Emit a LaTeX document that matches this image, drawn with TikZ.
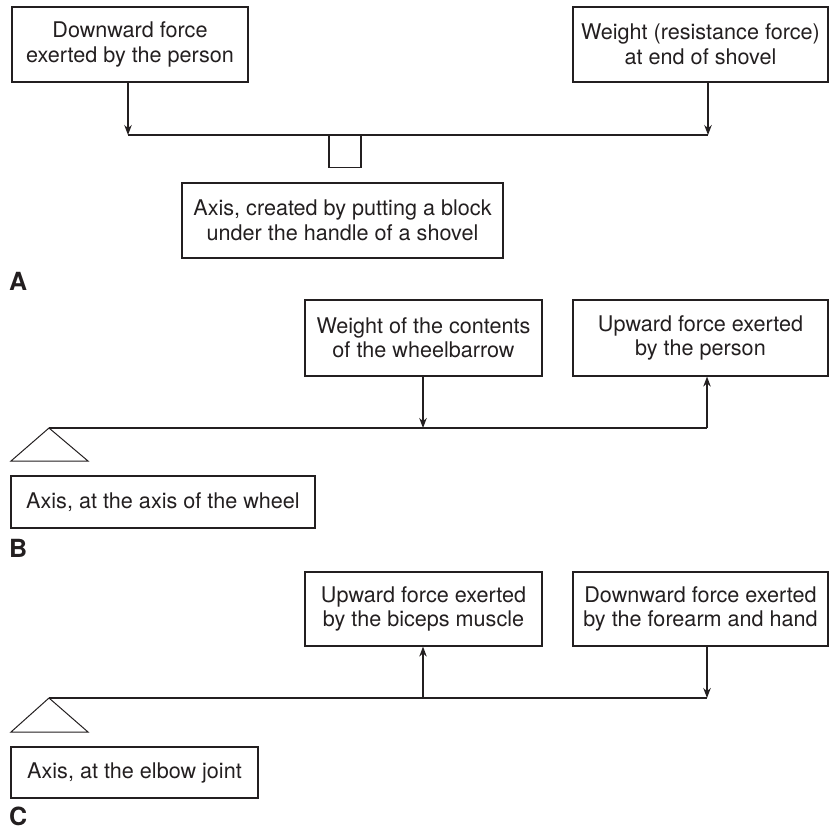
\documentclass[tikz,border=0pt]{standalone}
\usepackage{fontspec}
\setmainfont{TeX Gyre Heros}
\usetikzlibrary{arrows.meta}
\definecolor{ink}{RGB}{35,31,32}
\begin{document}
\begin{tikzpicture}[x=1pt,y=-1pt,
  every node/.style={text=ink},
  box/.style={draw=ink,line width=1.2pt,rectangle,inner sep=0pt,align=center,
    font=\fontsize{21.6}{24.5}\selectfont},
  lever/.style={draw=ink,line width=1.2pt},
  arr/.style={draw=ink,line width=1.2pt,-{Stealth[length=10pt,width=7.5pt]}},
  tag/.style={font=\fontsize{25}{25}\selectfont\bfseries,inner sep=0pt,anchor=south west}]
\useasboundingbox (0,0) rectangle (829,834);

% ---------- A: shovel on a block ----------
\node[box,minimum width=236pt,minimum height=75pt] (a1) at (130,44.5)
  {Downward force\\exerted by the person};
\node[box,minimum width=255pt,minimum height=75pt] (a2) at (700.5,44.5)
  {Weight (resistance force)\\at end of shovel};
\node[box,minimum width=321pt,minimum height=75pt] (a3) at (342.5,220.5)
  {Axis, created by putting a block\\under the handle of a shovel};
\coordinate (aL) at (128,135);
\coordinate (aR) at (708,135);
\draw[lever] (aL) -- (aR);
\node[draw=ink,line width=1.2pt,minimum width=32pt,minimum height=32pt,inner sep=0pt,anchor=north]
  (ablock) at (345,135) {};
\draw[arr] (a1.south -| aL) -- (aL);
\draw[arr] (a2.south -| aR) -- (aR);
\node[tag] (tagA) at (9,291) {A};

% ---------- B: wheelbarrow ----------
\node[box,minimum width=237pt,minimum height=76pt] (b1) at (423.5,338)
  {Weight of the contents\\of the wheelbarrow};
\node[box,minimum width=255pt,minimum height=76pt] (b2) at (700.5,338)
  {Upward force exerted\\by the person};
\node[box,minimum width=304pt,minimum height=52pt] (b3) at (163,502)
  {Axis, at the axis of the wheel};
\coordinate (bL) at (49,428);
\coordinate (bR) at (707,428);
\coordinate (bM) at (423,428);
\draw[lever] (bL) -- (bR);
\draw[lever,line width=1pt] (bL) -- (88,461) -- (11,461) -- cycle;
\draw[arr] (b1.south -| bM) -- (bM);
\draw[arr] (bR) -- (b2.south -| bR);
\node[tag] (tagB) at (9,558) {B};

% ---------- C: forearm ----------
\node[box,minimum width=237pt,minimum height=74pt] (c1) at (423.5,609)
  {Upward force exerted\\by the biceps muscle};
\node[box,minimum width=255pt,minimum height=74pt] (c2) at (700.5,609)
  {Downward force exerted\\by the forearm and hand};
\node[box,minimum width=247pt,minimum height=51pt] (c3) at (134.5,772.5)
  {Axis, at the elbow joint};
\coordinate (cL) at (49,698);
\coordinate (cR) at (707,698);
\coordinate (cM) at (423,698);
\draw[lever] (cL) -- (cR);
\draw[lever,line width=1pt] (cL) -- (88,732) -- (11,732) -- cycle;
\draw[arr] (cM) -- (c1.south -| cM);
\draw[arr] (c2.south -| cR) -- (cR);
\node[tag] (tagC) at (9,826) {C};
\end{tikzpicture}
\end{document}
